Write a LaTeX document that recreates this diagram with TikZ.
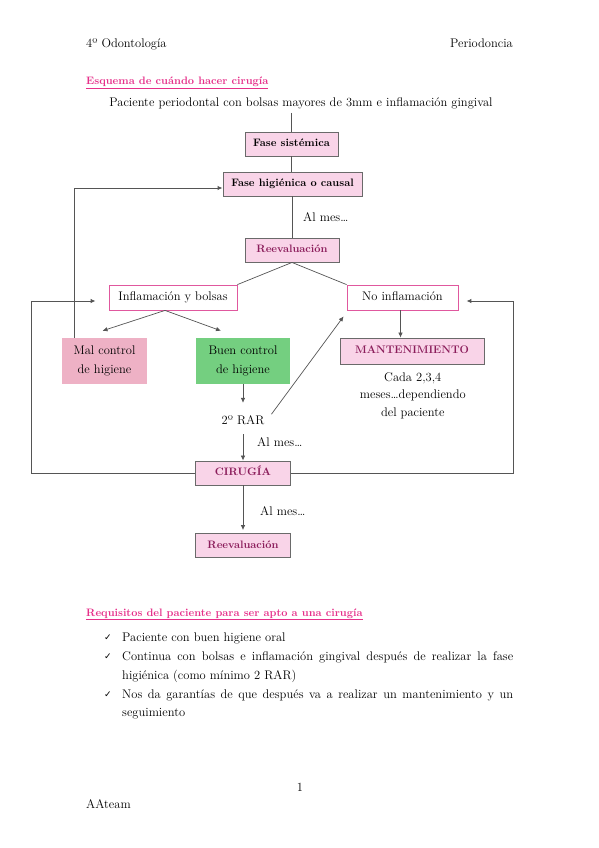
\documentclass[tikz,border=0pt]{standalone}
\usepackage{fontspec}
\newfontfamily\dejavu{DejaVu Sans}
\usetikzlibrary{arrows.meta,calc}
\definecolor{titlepink}{HTML}{E6308A}
\definecolor{boxfill}{HTML}{F9D4E8}
\definecolor{boxline}{HTML}{6A6A6A}
\definecolor{pinkline}{HTML}{E0589E}
\definecolor{malfill}{HTML}{EEB1C5}
\definecolor{buenfill}{HTML}{74CF80}
\definecolor{darkmag}{HTML}{8B1D5B}
\definecolor{linegray}{HTML}{555555}
\tikzset{
  body/.style={inner sep=0pt, font=\fontsize{12.5}{15}\selectfont},
  pagetitle/.style={inner sep=0pt, text=titlepink, font=\fontsize{10.8}{13}\selectfont\bfseries},
  pbox/.style={draw=boxline, fill=boxfill, line width=0.9pt, inner sep=0pt,
    minimum height=24pt, text height=7.5pt, text depth=2pt,
    font=\fontsize{10.8}{13}\selectfont\bfseries},
  wbox/.style={draw=pinkline, fill=white, line width=0.8pt, inner sep=0pt,
    minimum height=25pt, text height=8.5pt, text depth=2.5pt,
    font=\fontsize{12.5}{15}\selectfont},
  cbox/.style={inner sep=0pt, minimum height=46pt, align=center,
    font=\fontsize{12.5}{19.5}\selectfont},
  conn/.style={draw=linegray, line width=0.7pt},
  arr/.style={conn, -{Latex[length=5pt,width=4.5pt]}},
  loopline/.style={draw=linegray, line width=1pt, -{Latex[length=5pt,width=4.5pt]}},
  check/.style={inner sep=0pt, font=\dejavu\fontsize{9}{11}\selectfont},
}
\begin{document}
\begin{tikzpicture}[x=1pt,y=-1pt]
\useasboundingbox[fill=white] (0,0) rectangle (599,848);

% header
\node[body, anchor=base west] (hl) at (86,48) {4º Odontología};
\node[body, anchor=base east] (hr) at (513,48) {Periodoncia};

% title
\node[pagetitle, anchor=base west] (t1) at (86,85) {\underline{Esquema de cuándo hacer cirugía}};
\node[body, anchor=base] (pac) at (301,107) {Paciente periodontal con bolsas mayores de 3mm e inflamación gingival};

% flow boxes
\node[pbox, minimum width=93pt] (fs) at (291.5,144) {Fase sistémica};
\node[pbox, minimum width=139pt] (fh) at (292.5,184) {Fase higiénica o causal};
\node[body, anchor=base west] (m1) at (303,221) {Al mes…};
\node[pbox, text=darkmag, minimum width=94pt] (reev) at (292,250) {Reevaluación};

\node[wbox, minimum width=128pt] (infl) at (173,297.5) {Inflamación y bolsas};
\node[wbox, minimum width=111pt] (noinf) at (402.5,297.5) {No inflamación};

\node[cbox, fill=malfill, minimum width=85pt] (mal) at (104.5,361) {Mal control\\de higiene};
\node[cbox, fill=buenfill, minimum width=94pt] (buen) at (243,361) {Buen control\\de higiene};
\node[pbox, text=darkmag, minimum width=144pt, minimum height=26pt,
      font=\fontsize{11}{13}\selectfont\bfseries] (mant) at (412,351) {MANTENIMIENTO};
\node[body, align=center, font=\fontsize{12.5}{17.5}\selectfont] (cada) at (412.8,395.7)
  {Cada 2,3,4\\meses…dependiendo\\del paciente};

\node[body, anchor=base] (rar) at (243,424) {2º RAR};
\node[body, anchor=base west] (m2) at (257,446) {Al mes…};
\node[pbox, text=darkmag, minimum width=95pt] (cir) at (243,473) {CIRUGÍA};
\node[body, anchor=base west] (m3) at (260,515) {Al mes…};
\node[pbox, text=darkmag, minimum width=95pt] (reev2) at (243,545.5) {Reevaluación};

% connectors
\draw[conn] ([yshift=-3pt]fs.north |- pac.south) -- (fs.north);
\draw[conn] (fs.south) -- (fs.south |- fh.north);
\draw[conn] (fh.south) -- (fh.south |- reev.north);
\draw[conn] (reev.south) -- (infl.north east);
\draw[conn] (reev.south) -- (noinf.north west);
\draw[arr] ([xshift=-8pt]infl.south) -- ([xshift=-2pt,yshift=7pt]mal.north);
\draw[arr] ([xshift=-8pt]infl.south) -- ([xshift=-22pt,yshift=7pt]buen.north);
\draw[loopline] ([xshift=13pt]mal.north west) |- ([yshift=-4pt]fh.west);
\draw[arr] ([xshift=-2pt]noinf.south) -- ([xshift=-2pt]noinf.south |- mant.north);
\draw[arr] (buen.south) -- ([yshift=12pt]rar.north);
\draw[arr] ([xshift=7pt,yshift=5.5pt]rar.east) -- ([xshift=-3pt,yshift=-6pt]noinf.south west);
\draw[arr] ([yshift=-10pt]rar.south) -- (cir.north);
\draw[arr] (cir.south) -- ([yshift=3pt]reev2.north);
\draw[loopline] (cir.west) -- ++(-164,0) |- ([xshift=-13pt,yshift=-3.5pt]infl.west);
\draw[loopline] (cir.east) -- ++(223,0) |- ([xshift=8pt,yshift=-3.5pt]noinf.east);

% requirements
\node[pagetitle, anchor=base west] (t2) at (86,616) {\underline{Requisitos del paciente para ser apto a una cirugía}};
\node[check, anchor=base west] (c1) at (104,640) {✓};
\node[body, anchor=base west] (r1) at (122,641) {Paciente con buen higiene oral};
\node[check, anchor=base west] (c2) at (104,659) {✓};
\node[body, anchor=base west] (r2) at (122,660) {\makebox[391pt][s]{Continua con bolsas e inflamación gingival después de realizar la fase}};
\node[body, anchor=base west] (r2b) at (122,679) {higiénica (como mínimo 2 RAR)};
\node[check, anchor=base west] (c3) at (104,697) {✓};
\node[body, anchor=base west] (r3) at (122,698) {\makebox[391pt][s]{Nos da garantías de que después va a realizar un mantenimiento y un}};
\node[body, anchor=base west] (r3b) at (122,716) {seguimiento};

% footer
\node[body, anchor=base] (pg) at (300,791) {1};
\node[body, anchor=base west] (ft) at (86,808) {AAteam};
\end{tikzpicture}
\end{document}
